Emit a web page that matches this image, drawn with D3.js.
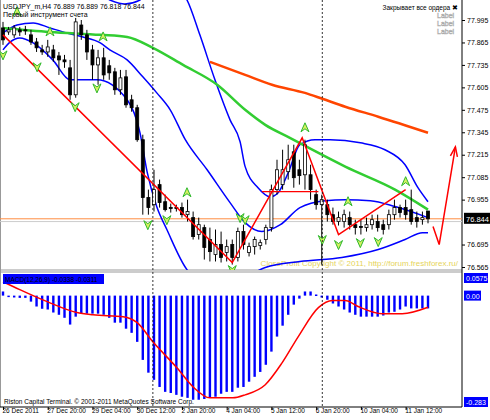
<!DOCTYPE html>
<html>
<head>
<meta charset="utf-8">
<script src="https://cdn.jsdelivr.net/npm/d3@7"></script>
<style>
body { margin: 0; background: #fff; }
svg text { font-family: 'Liberation Sans', Arial, sans-serif; }
</style>
</head>
<body>
<script>
const W = 490
const H = 420
const plotRight = 462
const mainTop = 0, mainBottom = 270
const subTop = 272, subBottom = 407

// candles (USDJPY_m, H4)
const opens = [77.949,77.926,77.909,77.938,77.938,77.909,77.868,77.822,77.810,77.822,77.787,77.764,77.718,77.562,77.966,77.909,77.822,77.735,77.776,77.730,77.695,77.591,77.666,77.533,77.487,77.302,76.967,76.926,77.042,76.943,76.909,76.909,76.909,76.868,76.851,76.753,76.793,76.724,76.637,76.695,76.649,76.695,76.620,76.770,76.649,76.683,76.689,76.724,76.793,77.013,77.042,77.117,77.232,77.128,77.099,77.099,76.984,76.926,76.926,76.868,76.828,76.828,76.851,76.810,76.800,76.793,76.810,76.828,76.810,76.810,76.868,76.909,76.909,76.897,76.851,76.839,76.889]
const highs = [77.984,77.955,77.966,77.955,77.961,77.938,77.891,77.851,77.880,77.851,77.810,77.793,77.764,78.007,77.995,77.938,77.851,77.822,77.834,77.764,77.718,77.706,77.706,77.562,77.504,77.331,77.013,77.128,77.071,76.984,76.932,76.926,76.938,76.955,76.886,76.851,76.810,76.793,76.782,76.770,76.724,76.724,76.793,76.810,76.706,76.741,76.724,76.810,77.042,77.186,77.244,77.273,77.273,77.186,77.302,77.157,77.013,76.984,76.955,76.909,76.886,76.897,76.886,76.839,76.839,76.851,76.868,76.868,76.839,76.897,76.955,76.926,76.955,77.013,76.886,76.886,76.889]
const lows = [77.851,77.909,77.891,77.903,77.909,77.851,77.810,77.793,77.782,77.753,77.677,77.718,77.533,77.545,77.880,77.764,77.649,77.620,77.649,77.649,77.562,77.562,77.487,77.464,77.290,76.868,76.868,76.886,76.909,76.886,76.880,76.886,76.851,76.828,76.724,76.724,76.608,76.597,76.597,76.591,76.597,76.579,76.597,76.666,76.626,76.637,76.666,76.695,76.770,76.984,77.013,77.071,77.024,77.042,77.013,76.955,76.897,76.579,76.828,76.810,76.805,76.793,76.782,76.753,76.753,76.770,76.782,76.770,76.753,76.782,76.839,76.851,76.839,76.810,76.793,76.810,76.818]
const closes = [77.880,77.938,77.949,77.926,77.935,77.868,77.834,77.810,77.839,77.776,77.764,77.753,77.562,77.984,77.909,77.810,77.735,77.776,77.677,77.689,77.591,77.660,77.504,77.487,77.302,76.967,76.909,77.013,76.938,76.897,76.906,76.905,76.868,76.886,76.741,76.810,76.678,76.654,76.695,76.620,76.683,76.620,76.770,76.695,76.683,76.724,76.706,76.793,77.013,77.128,77.128,77.186,77.082,77.094,77.273,77.013,76.926,76.955,76.868,76.828,76.851,76.868,76.810,76.793,76.798,76.810,76.839,76.793,76.782,76.868,76.909,76.880,76.868,76.828,76.828,76.851,76.844]

// indicator lines: [bar index, price]
const bbUpper = [[0,78.227],[16.5,78.157],[19.1,78.111],[21.8,78.088],[24.5,78.111],[27.2,78.198],[31.7,78.169],[32.9,78.111],[35.2,77.909],[37.9,77.649],[40.6,77.417],[42.4,77.290],[43.3,77.146],[45.6,77.024],[47.8,76.972],[49.2,76.995],[51,77.111],[53.1,77.273],[55.8,77.302],[58.5,77.302],[63.9,77.284],[68.3,77.244],[71.9,77.157],[74.2,77.024],[76,76.943]]
const bbMiddle = [[0,77.920],[2.5,77.966],[5.4,77.978],[8.4,77.949],[11.4,77.920],[14.3,77.897],[17.4,77.862],[19.1,77.822],[22.2,77.764],[25,77.666],[27.5,77.573],[29.9,77.475],[32.6,77.302],[36.5,77.128],[40.6,76.938],[43.3,76.822],[46.3,76.770],[49.6,76.810],[53.1,76.909],[57.6,76.949],[61.2,76.955],[65.7,76.949],[70.1,76.915],[76,76.851]]
const bbLower = [[0,77.822],[1.3,77.868],[3,77.891],[5.4,77.862],[8.9,77.764],[12,77.649],[16.8,77.649],[22.2,77.533],[24.5,77.342],[25.8,77.111],[27.5,76.914],[29.3,76.782],[32.9,76.550],[37,76.464],[42.4,76.493],[46.9,76.562],[53.1,76.597],[60.6,76.620],[67.1,76.666],[71.9,76.724],[75,76.764],[76,76.764]]
const maGreen = [[0,77.949],[8.4,77.926],[17.4,77.909],[22.2,77.897],[26.8,77.834],[32.2,77.735],[38.3,77.620],[43.3,77.475],[46.9,77.388],[51.3,77.313],[55.3,77.244],[61.2,77.146],[70.1,77.013],[76,76.897]]
const maOrange = [[37,77.753],[43.3,77.677],[48.1,77.620],[54,77.573],[57.1,77.539],[61.2,77.493],[67.1,77.435],[76,77.342]]
const zigzag = [[0,77.909],[41,76.591],[53.5,77.313],[60,76.753],[72,77.013]]
const zzLevel = [[46.3,77.001],[56.4,77.001]]
const forecast = [[76.9,76.799],[78,76.695],[80.9,77.261]]
const arrowsUp = [[2.5,78.042],[8.4,77.926],[17.9,77.897],[32.9,76.995],[54,77.371],[61.7,76.943],[72,77.059]]
const arrowsDown = [[0,77.793],[6.1,77.724],[12.9,77.493],[16.8,77.602],[25.9,76.810],[29.3,76.839],[41,76.550],[42.4,76.851],[43.3,76.839],[57.1,76.724],[60,76.695],[63.9,76.706],[67.1,76.712]]
const separators = [26.8, 57.1]
const bid = 76.844, ask = 76.828

// MACD(12,26,9)
const macdHist = [0.011,-0.004,-0.005,-0.006,-0.006,-0.016,-0.029,-0.035,-0.037,-0.045,-0.051,-0.059,-0.077,-0.056,-0.048,-0.048,-0.048,-0.048,-0.051,-0.059,-0.072,-0.072,-0.088,-0.099,-0.123,-0.171,-0.205,-0.224,-0.243,-0.256,-0.259,-0.264,-0.269,-0.272,-0.277,-0.277,-0.275,-0.272,-0.269,-0.261,-0.256,-0.256,-0.245,-0.243,-0.229,-0.216,-0.203,-0.184,-0.149,-0.109,-0.080,-0.051,-0.024,-0.008,0.011,0.011,0.003,-0.005,-0.011,-0.021,-0.029,-0.037,-0.045,-0.051,-0.056,-0.056,-0.056,-0.056,-0.053,-0.045,-0.043,-0.037,-0.029,-0.034,-0.034,-0.034,-0.034]
const macdSignal = [[0,0.037],[3,0.016],[7.9,-0.016],[13.2,-0.045],[16.1,-0.051],[21.5,-0.056],[24,-0.072],[26.8,-0.123],[31.1,-0.192],[34,-0.243],[37,-0.272],[41.1,-0.272],[43.3,-0.264],[46.9,-0.237],[49.9,-0.179],[52.8,-0.109],[56.4,-0.032],[58.9,-0.013],[61.2,-0.013],[63.5,-0.029],[67.8,-0.048],[71.4,-0.048],[76,-0.031]]

const priceTicks = [77.995,77.865,77.735,77.605,77.475,77.345,77.215,77.085,76.955,76.695,76.565]
const subTicks = [0.0575, 0, -0.283]
const subTickText = ['0.0575', '0.00', '-0.283']
const timeTicks = [0,8,16,24,32,40,48,56,64,72]
const timeLabels = ['26 Dec 2011','27 Dec 20:00','29 Dec 04:00','30 Dec 12:00','2 Jan 20:00','4 Jan 04:00','5 Jan 12:00','6 Jan 20:00','10 Jan 04:00','11 Jan 12:00']

const x = d3.scaleLinear().domain([0, 76]).range([3, 428])
const y = d3.scaleLinear().domain([76.565, 77.995]).range([267, 20])
const ys = d3.scaleLinear().domain([-0.283, 0.0575]).range([402, 274])

const svg = d3.select('body').append('svg').attr('width', W).attr('height', H)

const defs = svg.append('defs')
defs.append('clipPath').attr('id', 'clipMain').append('rect')
    .attr('x', 0).attr('y', mainTop).attr('width', plotRight).attr('height', mainBottom - mainTop)
defs.append('clipPath').attr('id', 'clipSub').append('rect')
    .attr('x', 0).attr('y', subTop).attr('width', plotRight).attr('height', subBottom - subTop)

// frames
svg.append('line').attr('x1', 0).attr('x2', plotRight).attr('y1', mainBottom).attr('y2', mainBottom).attr('stroke', '#999')
svg.append('line').attr('x1', 0).attr('x2', plotRight).attr('y1', subTop).attr('y2', subTop).attr('stroke', '#999')
svg.append('line').attr('x1', 0.5).attr('x2', 0.5).attr('y1', 0).attr('y2', subBottom).attr('stroke', '#999')
svg.append('line').attr('x1', plotRight).attr('x2', plotRight).attr('y1', 0).attr('y2', subBottom).attr('stroke', '#000')
svg.append('line').attr('x1', 0).attr('x2', plotRight).attr('y1', subBottom).attr('y2', subBottom).attr('stroke', '#000')

const main = svg.append('g').attr('clip-path', 'url(#clipMain)')
const sub = svg.append('g').attr('clip-path', 'url(#clipSub)')

// separators
separators.forEach(function (s) {
    svg.append('line').attr('x1', x(s)).attr('x2', x(s)).attr('y1', 0).attr('y2', subBottom)
        .attr('stroke', '#000').attr('stroke-dasharray', '2,2').attr('stroke-width', 0.8)
})

// watermark
main.append('text').attr('x', 458).attr('y', 266).attr('text-anchor', 'end')
    .attr('font-size', 8).attr('fill', '#e6d45a')
    .text('CloseProfit Copyright © 2011, http://forum.freshforex.ru/')

// bid / ask lines
main.append('line').attr('x1', 0).attr('x2', plotRight).attr('y1', y(bid)).attr('y2', y(bid)).attr('stroke', '#ff8c40')
main.append('line').attr('x1', 0).attr('x2', plotRight).attr('y1', y(ask)).attr('y2', y(ask)).attr('stroke', '#ccc')

const line = d3.line().x(function (d) { return x(d[0]) }).y(function (d) { return y(d[1]) }).curve(d3.curveMonotoneX)
const straight = d3.line().x(function (d) { return x(d[0]) }).y(function (d) { return y(d[1]) })

;[bbUpper, bbMiddle, bbLower].forEach(function (b) {
    main.append('path').attr('d', line(b)).attr('fill', 'none').attr('stroke', '#0000ff').attr('stroke-width', 1.5)
})
main.append('path').attr('d', line(maGreen)).attr('fill', 'none').attr('stroke', '#32cd32').attr('stroke-width', 2.5)
main.append('path').attr('d', line(maOrange)).attr('fill', 'none').attr('stroke', '#ff4500').attr('stroke-width', 2.5)

// candles
const idx = d3.range(opens.length)
main.selectAll('line.wick').data(idx).enter().append('line')
    .attr('x1', function (i) { return x(i) }).attr('x2', function (i) { return x(i) })
    .attr('y1', function (i) { return y(highs[i]) }).attr('y2', function (i) { return y(lows[i]) })
    .attr('stroke', '#000')
main.selectAll('rect.body').data(idx).enter().append('rect')
    .attr('x', function (i) { return x(i) - 1.5 }).attr('width', 3)
    .attr('y', function (i) { return y(Math.max(opens[i], closes[i])) })
    .attr('height', function (i) { return Math.max(1, Math.abs(y(opens[i]) - y(closes[i]))) })
    .attr('fill', function (i) { return closes[i] >= opens[i] ? '#fff' : '#000' })
    .attr('stroke', '#000').attr('stroke-width', 0.8)

// zigzag
main.append('path').attr('d', straight(zigzag)).attr('fill', 'none').attr('stroke', '#ff0000').attr('stroke-width', 1.5)
main.append('path').attr('d', straight(zzLevel)).attr('fill', 'none').attr('stroke', '#ff0000').attr('stroke-width', 1.2)
main.append('path').attr('d', straight(forecast)).attr('fill', 'none').attr('stroke', '#ff0000').attr('stroke-width', 1.5)
const fEnd = forecast[forecast.length - 1]
const fx = x(fEnd[0]), fy = y(fEnd[1])
main.append('path').attr('d', `M${fx - 5},${fy + 9} L${fx},${fy} L${fx + 2},${fy + 10}`)
    .attr('fill', 'none').attr('stroke', '#ff0000').attr('stroke-width', 1.5)

// fractal arrows
function chevron (cx, cy, up) {
    const d = up ? `M${cx - 4},${cy + 4} L${cx},${cy - 5} L${cx + 4},${cy + 4} L${cx},${cy + 1} Z`
                 : `M${cx - 4},${cy - 4} L${cx},${cy + 5} L${cx + 4},${cy - 4} L${cx},${cy - 1} Z`
    main.append('path').attr('d', d).attr('fill', '#d8f060').attr('stroke', '#2db82d').attr('stroke-width', 1)
}
arrowsUp.forEach(function (a) { chevron(x(a[0]), y(a[1]), true) })
arrowsDown.forEach(function (a) { chevron(x(a[0]), y(a[1]), false) })

// price axis
const yAxis = svg.append('g').attr('transform', `translate(${plotRight},0)`)
    .call(d3.axisRight(y).tickValues(priceTicks).tickSize(3).tickFormat(d3.format('.3f')))
yAxis.select('.domain').remove()
yAxis.selectAll('text').attr('font-size', 7).attr('font-family', 'Liberation Sans').attr('dx', -1)
const bx = svg.append('g')
bx.append('rect').attr('x', plotRight + 2).attr('y', y(bid) - 6).attr('width', 26).attr('height', 11).attr('fill', '#000')
bx.append('text').attr('x', plotRight + 4).attr('y', y(bid) + 3).attr('fill', '#fff').attr('font-size', 7.5).text(bid.toFixed(3))

// texts
svg.append('text').attr('x', 3).attr('y', 9).attr('font-size', 7).text('USDJPY_m,H4  76.889 76.889 76.818 76.844')
svg.append('text').attr('x', 3).attr('y', 17).attr('font-size', 7).text('Первый инструмент счета')
svg.append('text').attr('x', 458).attr('y', 10).attr('text-anchor', 'end').attr('font-size', 6.5).text('Закрывает все ордера  ✖')
;[18, 26, 34].forEach(function (ly) {
    svg.append('text').attr('x', 437).attr('y', ly).attr('font-size', 7).attr('fill', '#fff')
        .attr('stroke', '#aaa').attr('stroke-width', 0.5).text('Label')
})

// MACD
sub.selectAll('rect.hist').data(macdHist).enter().append('rect')
    .attr('x', function (d, i) { return x(i) - 1.2 }).attr('width', 2.4)
    .attr('y', function (d) { return Math.min(ys(d), ys(0)) })
    .attr('height', function (d) { return Math.max(1.5, Math.abs(ys(d) - ys(0))) })
    .attr('fill', '#0000ff')
const sline = d3.line().x(function (d) { return x(d[0]) }).y(function (d) { return ys(d[1]) }).curve(d3.curveMonotoneX)
sub.append('path').attr('d', sline(macdSignal)).attr('fill', 'none').attr('stroke', '#ff0000').attr('stroke-width', 1.5)

svg.append('rect').attr('x', 3).attr('y', 274).attr('width', 101).attr('height', 10).attr('fill', '#0000ff')
svg.append('text').attr('x', 5).attr('y', 282).attr('font-size', 6.5).attr('fill', '#000').text('MACD(12,26,9) -0.0338 -0.0311')

subTicks.forEach(function (t, k) {
    const ty = k === 0 ? 278 : ys(t)
    svg.append('rect').attr('x', plotRight + 2).attr('y', ty - 5).attr('width', k === 1 ? 17 : 24).attr('height', 10).attr('fill', '#0000ff')
    svg.append('text').attr('x', plotRight + 4).attr('y', ty + 3).attr('font-size', 7).attr('fill', '#fff').text(subTickText[k])
})

svg.append('text').attr('x', 4).attr('y', 404).attr('font-size', 6.5).text('Riston Capital Terminal. © 2001-2011 MetaQuotes Software Corp.')

// time axis
const xAxis = svg.append('g').attr('transform', `translate(0,${subBottom})`)
    .call(d3.axisBottom(x).tickValues(timeTicks).tickSize(3).tickFormat(function (d, i) { return timeLabels[i] }))
xAxis.select('.domain').remove()
xAxis.selectAll('text').attr('font-size', 6.5).attr('font-family', 'Liberation Sans').attr('text-anchor', 'start').attr('dx', -1).attr('dy', 0)
</script>
</body>
</html>
